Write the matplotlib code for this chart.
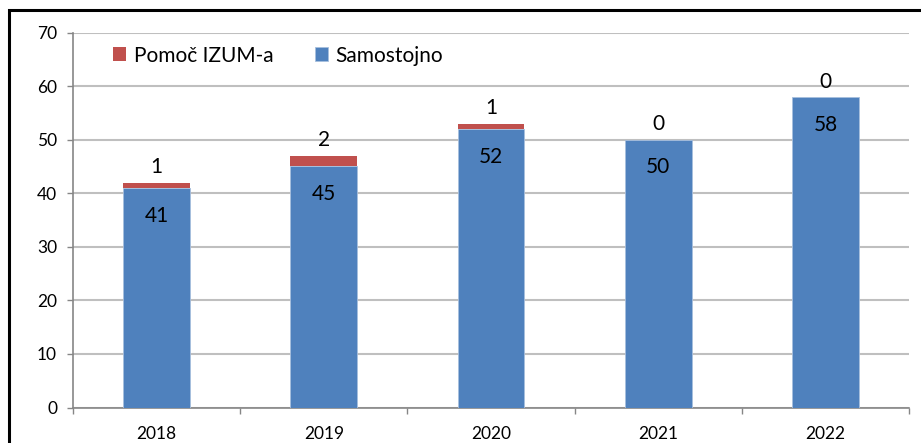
import numpy as np
import matplotlib
matplotlib.use("Agg")
import matplotlib.pyplot as plt
from matplotlib.patches import Rectangle

# data
leta = ["2018", "2019", "2020", "2021", "2022"]
samostojno = [41, 45, 52, 50, 58]
pomoc = [1, 2, 1, 0, 0]

plt.rcParams['font.family'] = ['Lato', 'DejaVu Sans']

fig = plt.figure(figsize=(9.21, 4.43), dpi=100)
ax = fig.add_axes([0.0793, 0.0801, 0.9077, 0.8465])

x = np.arange(len(leta))
w = 0.4
b1 = ax.bar(x, samostojno, w, color="#4F81BD", edgecolor="#A7BFDE", linewidth=0.6,
            label="Samostojno", zorder=3)
b2 = ax.bar(x, pomoc, w, bottom=samostojno, color="#C0504D", linewidth=0,
            label="Pomoč IZUM-a", zorder=3)

# oznake vrednosti
for i in range(len(leta)):
    ax.annotate(str(samostojno[i]), (x[i], samostojno[i]), xytext=(0, -20),
                textcoords="offset points", ha="center", va="center", fontsize=15)
    ax.annotate(str(pomoc[i]), (x[i], samostojno[i] + pomoc[i]), xytext=(0, 11),
                textcoords="offset points", ha="center", va="center", fontsize=15)

ax.set_ylim(0, 70)
ax.set_xlim(-0.5, len(leta) - 0.5)
ax.set_yticks(range(0, 71, 10))
ax.set_xticks(x)
ax.set_xticklabels(leta)
ax.set_xticks(np.arange(-0.5, len(leta), 1), minor=True)

ax.grid(axis="y", color="#BFBFBF", linewidth=1.5, zorder=0)
ax.tick_params(axis="y", direction="out", length=4.5, width=1, color="#868686",
               labelsize=12.5, pad=7)
ax.tick_params(axis="x", which="major", length=0, labelsize=12.5, pad=13)
ax.tick_params(axis="x", which="minor", direction="out", length=4.5, width=1,
               color="#868686")

for s in ["top", "right"]:
    ax.spines[s].set_visible(False)
for s in ["left", "bottom"]:
    ax.spines[s].set_color("#868686")
    ax.spines[s].set_linewidth(1.2)

h, l = ax.get_legend_handles_labels()
ax.legend(h[::-1], l[::-1], loc="upper left", bbox_to_anchor=(0.025, 1.015), ncol=2,
          frameon=False, fontsize=15, handlelength=0.65, handleheight=0.65,
          handletextpad=0.35, columnspacing=2.0)

# okvir
fig.patches.append(Rectangle((8.5 / 921, -0.1), 1.2, 0.1 + (443 - 10.5) / 443,
                             transform=fig.transFigure, fill=False,
                             edgecolor="black", linewidth=2.2))

fig.savefig("out.png", dpi=100)
